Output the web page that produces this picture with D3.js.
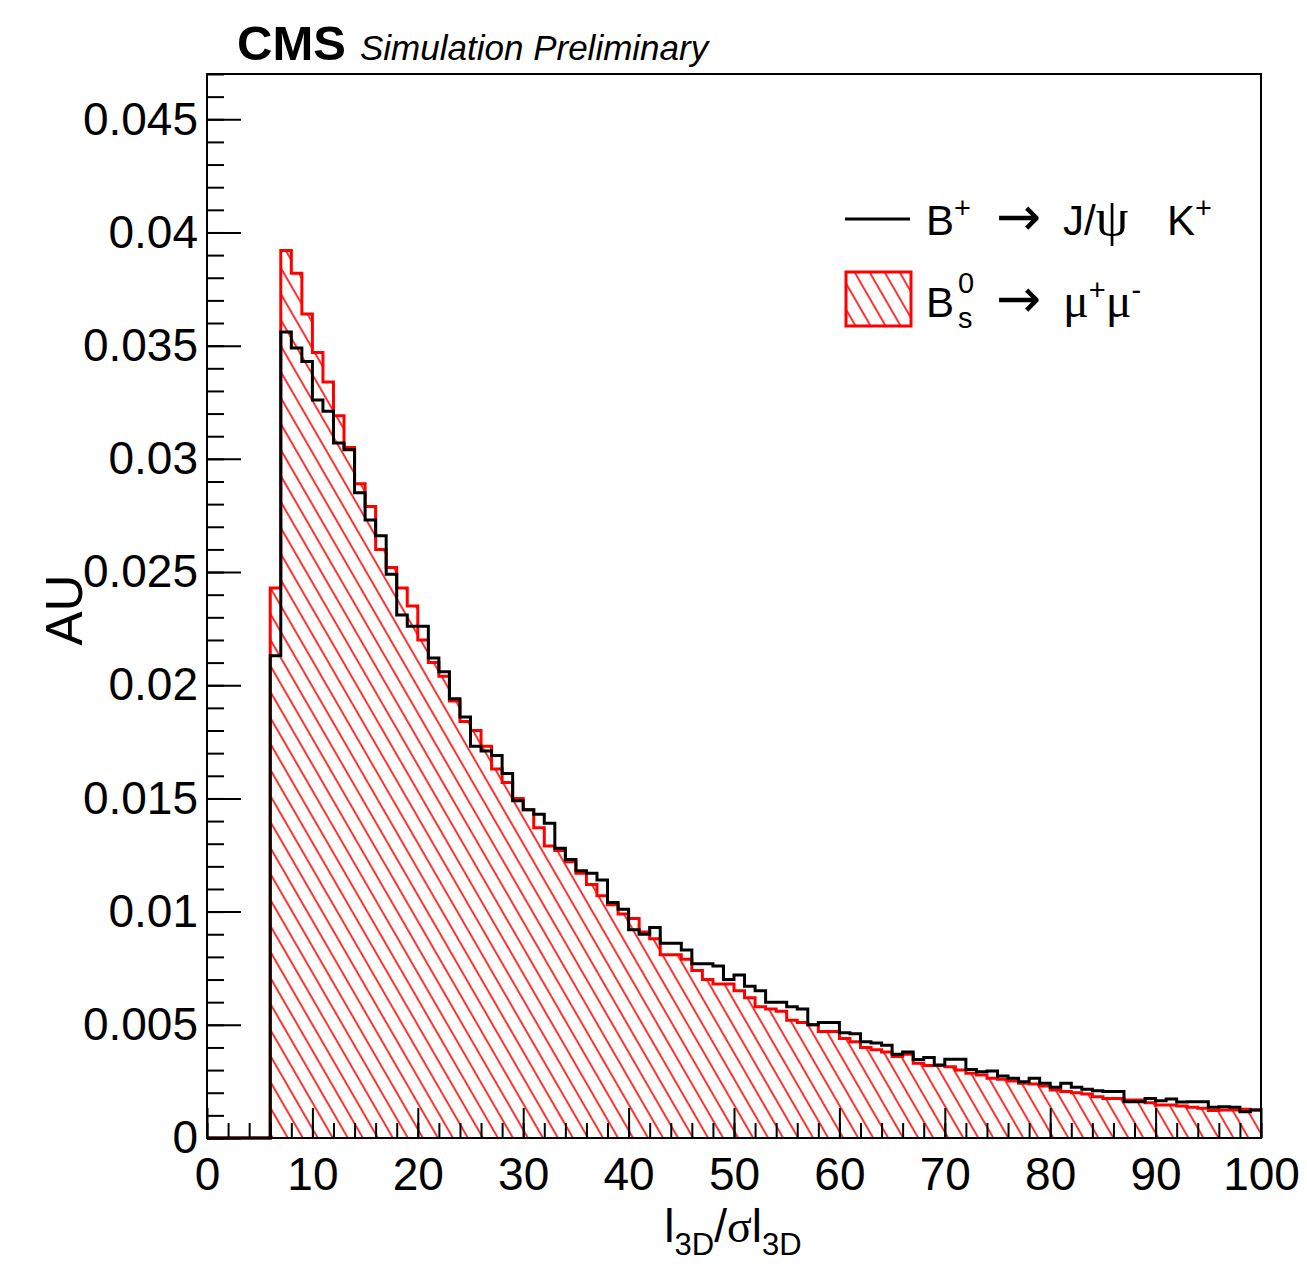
<!DOCTYPE html>
<html>
<head>
<meta charset="utf-8">
<script src="https://cdn.jsdelivr.net/npm/d3@7"></script>
<style>
  body { margin: 0; background: #fff; }
  text { font-family: "Liberation Sans", Arial, Helvetica, sans-serif; }
</style>
</head>
<body>
<div id="chart-area"></div>
<script>
// l3D / sigma(l3D), 100 bins of width 1 from 0 to 100
var binEdges = d3.range(0, 101, 1)

// B+ -> J/psi K+ (black line)
var bplus = [0,0,0,0,0,0,
	0.0213,0.0356,0.0349,0.0343,0.0326,0.0321,0.0307,0.0304,0.0285,0.0273,
	0.0266,0.0249,0.0231,0.0226,0.0226,0.0212,0.0206,0.0194,0.0186,0.0173,
	0.0171,0.0169,0.0161,0.0149,0.0145,0.0143,0.0139,0.0128,0.0123,0.0118,
	0.0117,0.0114,0.0104,0.0101,0.0092,0.0090,0.0093,0.0086,0.0086,0.0083,
	0.0077,0.0077,0.0076,0.0070,0.0072,0.0067,0.0065,0.0060,0.0060,0.0058,
	0.0057,0.0050,0.0051,0.0051,0.00465,0.0046,0.00425,0.0042,0.0041,0.0037,
	0.0038,0.00347,0.00356,0.00322,0.00348,0.00348,0.00303,0.00293,0.00296,0.00274,
	0.00264,0.00249,0.00264,0.00242,0.00224,0.00242,0.00224,0.00215,0.00209,0.00205,
	0.00205,0.0016,0.0016,0.00175,0.00165,0.00172,0.00159,0.0016,0.0016,0.00136,
	0.00138,0.00136,0.00116,0.00124]

// Bs0 -> mu+ mu- (red hatched)
var bsmumu = [0,0,0,0,0,0,
	0.0243,0.0392,0.0382,0.0364,0.0347,0.0334,0.0319,0.0305,0.0289,0.0279,
	0.0260,0.0252,0.0243,0.0235,0.0220,0.0210,0.0204,0.0193,0.0184,0.0180,
	0.0173,0.0163,0.0157,0.0150,0.0145,0.0137,0.0129,0.0127,0.0122,0.0117,
	0.0112,0.0107,0.0103,0.0099,0.0097,0.0091,0.0088,0.0081,0.0081,0.0079,
	0.0074,0.0070,0.0068,0.0068,0.0065,0.0062,0.0058,0.0057,0.0056,0.0052,
	0.0051,0.0050,0.0047,0.0047,0.0044,0.00425,0.0040,0.0039,0.0038,0.0036,
	0.0037,0.0033,0.0032,0.0032,0.00315,0.0030,0.00286,0.00278,0.00264,0.00259,
	0.00252,0.00242,0.00239,0.0023,0.00212,0.00205,0.0020,0.00194,0.00182,0.00175,
	0.00175,0.00168,0.00168,0.00156,0.00146,0.00146,0.00141,0.00136,0.00131,0.00121,
	0.00124,0.00124,0.00127,0.00124]

var xTickValues = [0, 10, 20, 30, 40, 50, 60, 70, 80, 90, 100]
var xTickLabels = ["0", "10", "20", "30", "40", "50", "60", "70", "80", "90", "100"]
var yTickValues = [0, 0.005, 0.01, 0.015, 0.02, 0.025, 0.03, 0.035, 0.04, 0.045]
var yTickLabels = ["0", "0.005", "0.01", "0.015", "0.02", "0.025", "0.03", "0.035", "0.04", "0.045"]

var margin = { left: 207, right: 46, top: 74, bottom: 126 }
var width = 1307 - margin.left - margin.right
var height = 1264 - margin.top - margin.bottom

var svg = d3.select("#chart-area")
	.append("svg")
	.attr("width", 1307)
	.attr("height", 1264)

// hatch like ROOT fill style 3005
var defs = svg.append("defs")
defs.append("pattern")
	.attr("id", "hatch")
	.attr("patternUnits", "userSpaceOnUse")
	.attr("width", 13)
	.attr("height", 13)
	.attr("patternTransform", "rotate(-30)")
	.append("line")
	.attr("x1", 6).attr("y1", -2)
	.attr("x2", 6).attr("y2", 15)
	.attr("stroke", "#ff0000")
	.attr("stroke-width", 1.6)

var g = svg.append("g")
	.attr("transform", "translate(" + margin.left + "," + margin.top + ")")

var x = d3.scaleLinear().domain([0, 100]).range([0, width])
var y = d3.scaleLinear().domain([0, 0.047]).range([height, 0])

function histPoints(vals) {
	var pts = vals.map(function (v, i) { return [binEdges[i], v] })
	pts.push([binEdges[vals.length], vals[vals.length - 1]])
	return pts
}

var area = d3.area()
	.curve(d3.curveStepAfter)
	.x(function (d) { return x(d[0]) })
	.y0(y(0))
	.y1(function (d) { return y(d[1]) })

var line = d3.line()
	.curve(d3.curveStepAfter)
	.x(function (d) { return x(d[0]) })
	.y(function (d) { return y(d[1]) })

g.append("path")
	.attr("d", area(histPoints(bsmumu)))
	.attr("fill", "url(#hatch)")

g.append("path")
	.attr("d", line(histPoints(bsmumu)))
	.attr("fill", "none")
	.attr("stroke", "#ff0000")
	.attr("stroke-width", 3)

g.append("path")
	.attr("d", line(histPoints(bplus)))
	.attr("fill", "none")
	.attr("stroke", "#000")
	.attr("stroke-width", 3)

// frame
g.append("rect")
	.attr("x", 0).attr("y", 0)
	.attr("width", width).attr("height", height)
	.attr("fill", "none")
	.attr("stroke", "#000")
	.attr("stroke-width", 2)

// axes, ticks pointing inward
var yAxis = d3.axisLeft(y)
	.tickValues(yTickValues)
	.tickFormat(function (d, i) { return yTickLabels[i] })
	.tickSizeInner(-34)
	.tickSizeOuter(0)
	.tickPadding(9)
var yMinor = d3.axisLeft(y)
	.tickValues(d3.range(0, 0.0471, 0.001))
	.tickFormat("")
	.tickSizeInner(-17)
	.tickSizeOuter(0)

g.append("g").attr("class", "y-minor").call(yMinor)
g.append("g").attr("class", "y-axis").call(yAxis)

var xAxis = d3.axisBottom(x)
	.tickValues(xTickValues)
	.tickFormat(function (d, i) { return xTickLabels[i] })
	.tickSizeInner(-30)
	.tickSizeOuter(0)
	.tickPadding(19)
var xMinor = d3.axisBottom(x)
	.tickValues(d3.range(0, 101, 2))
	.tickFormat("")
	.tickSizeInner(-15)
	.tickSizeOuter(0)

g.append("g").attr("transform", "translate(0," + height + ")").call(xMinor)
g.append("g").attr("class", "x-axis").attr("transform", "translate(0," + height + ")").call(xAxis)

g.selectAll(".domain").remove()
g.selectAll(".tick line").attr("stroke", "#000").attr("stroke-width", 2)
g.selectAll(".tick text")
	.attr("font-family", "Liberation Sans, Arial, sans-serif")
	.attr("font-size", 46)
	.attr("fill", "#000")

// axis titles
svg.append("text")
	.attr("transform", "translate(82,610) rotate(-90)")
	.attr("text-anchor", "middle")
	.attr("font-size", 51)
	.text("AU")

var xt = svg.append("text")
	.attr("x", 733)
	.attr("y", 1242)
	.attr("text-anchor", "middle")
	.attr("font-size", 46)
xt.append("tspan").text("l")
xt.append("tspan").attr("font-size", 31).attr("dy", 13).text("3D")
xt.append("tspan").attr("dy", -13).text("/")
xt.append("tspan").attr("font-family", "Liberation Serif, serif").text("σ")
xt.append("tspan").text("l")
xt.append("tspan").attr("font-size", 31).attr("dy", 13).text("3D")

// CMS label
svg.append("text")
	.attr("x", 237).attr("y", 60)
	.attr("font-size", 49)
	.attr("font-weight", "bold")
	.text("CMS")
svg.append("text")
	.attr("x", 360).attr("y", 60)
	.attr("font-size", 35)
	.attr("font-style", "italic")
	.text("Simulation Preliminary")

// legend
var leg = svg.append("g")
leg.append("line")
	.attr("x1", 845).attr("x2", 910)
	.attr("y1", 219).attr("y2", 219)
	.attr("stroke", "#000").attr("stroke-width", 3)
leg.append("rect")
	.attr("x", 846).attr("y", 272)
	.attr("width", 65).attr("height", 54)
	.attr("fill", "url(#hatch)")
	.attr("stroke", "#ff0000")
	.attr("stroke-width", 3)

var t1 = leg.append("text").attr("y", 235).attr("font-size", 42)
t1.append("tspan").attr("x", 926).text("B")
t1.append("tspan").attr("font-size", 29).attr("dy", -17).text("+")
t1.append("tspan").attr("x", 996).attr("dy", 17)
	.attr("font-family", "DejaVu Sans, sans-serif").attr("font-size", 54).text("→")
t1.append("tspan").attr("x", 1063).text("J/")
t1.append("tspan").attr("font-family", "Liberation Serif, serif").attr("font-size", 52).text("ψ")
t1.append("tspan").attr("x", 1167).text("K")
t1.append("tspan").attr("font-size", 29).attr("dy", -17).text("+")

var t2 = leg.append("text").attr("y", 317).attr("font-size", 42)
t2.append("tspan").attr("x", 926).text("B")
t2.append("tspan").attr("x", 958).attr("font-size", 29).attr("dy", -24).text("0")
t2.append("tspan").attr("x", 958).attr("font-size", 29).attr("dy", 35).text("s")
t2.append("tspan").attr("x", 996).attr("dy", -11)
	.attr("font-family", "DejaVu Sans, sans-serif").attr("font-size", 54).text("→")
t2.append("tspan").attr("x", 1063).attr("font-family", "Liberation Serif, serif").attr("font-size", 48).text("μ")
t2.append("tspan").attr("font-size", 29).attr("dy", -17).text("+")
t2.append("tspan").attr("font-family", "Liberation Serif, serif").attr("font-size", 48).attr("dy", 17).text("μ")
t2.append("tspan").attr("font-size", 29).attr("dy", -17).text("-")
</script>
</body>
</html>
